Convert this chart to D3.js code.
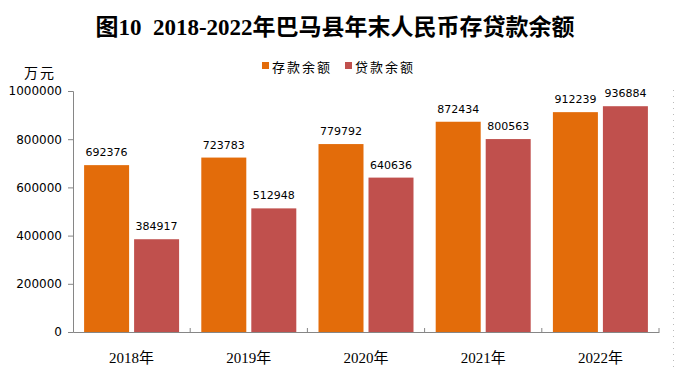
<!DOCTYPE html>
<html>
<head>
<meta charset="utf-8">
<script src="https://cdn.jsdelivr.net/npm/d3@7"></script>
<style>
  body { margin: 0; background: #fff; }
  svg { display: block; }
</style>
</head>
<body>
<svg id="chart" width="675" height="370"></svg>
<script>
// chart data
const years = ["2018年", "2019年", "2020年", "2021年", "2022年"];
const seriesNames = ["存款余额", "贷款余额"];
const deposits = [692376, 723783, 779792, 872434, 912239];
const loans = [384917, 512948, 640636, 800563, 936884];
const yTicks = [0, 200000, 400000, 600000, 800000, 1000000];
const colors = ["#E36C0A", "#C0504D"];

const svg = d3.select("#chart");
const plotLeft = 73, plotRight = 659, plotTop = 91, plotBottom = 332;

// title
svg.append("text")
  .attr("x", 335)
  .attr("y", 35)
  .attr("text-anchor", "middle")
  .attr("font-weight", "bold")
  .attr("font-size", 23)
  .attr("fill", "#000")
  .attr("font-family", "'Liberation Serif', 'Noto Sans CJK SC', serif")
  .style("white-space", "pre")
  .text("图10  2018-2022年巴马县年末人民币存贷款余额");

// legend
const legend = svg.append("g");
const legendX = [262, 345];
seriesNames.forEach((name, i) => {
  legend.append("rect")
    .attr("x", legendX[i]).attr("y", 62)
    .attr("width", 7).attr("height", 7)
    .attr("fill", colors[i]);
  legend.append("text")
    .attr("x", legendX[i] + 10).attr("y", 72)
    .attr("font-size", 13)
    .attr("letter-spacing", 2)
    .attr("font-family", "'Noto Sans CJK SC', sans-serif")
    .attr("fill", "#000")
    .text(name);
});

// y unit
svg.append("text")
  .attr("x", 40).attr("y", 78)
  .attr("text-anchor", "middle")
  .attr("font-size", 14)
  .attr("letter-spacing", 2)
  .attr("font-family", "'Noto Sans CJK SC', sans-serif")
  .text("万元");

// scales
const y = d3.scaleLinear().domain([0, 1000000]).range([plotBottom, plotTop]);
const x0 = d3.scaleBand().domain(years).range([plotLeft, plotRight]).padding(0);
const x1 = d3.scaleBand().domain(seriesNames).range([0, x0.bandwidth()])
  .paddingInner(0.1).paddingOuter(0.222);

// bars
const rows = years.map((yr, i) => ({ year: yr, values: [deposits[i], loans[i]] }));
const groups = svg.append("g").selectAll("g")
  .data(rows)
  .join("g")
  .attr("transform", d => `translate(${x0(d.year)},0)`);

groups.selectAll("rect")
  .data(d => d.values.map((v, i) => ({ key: seriesNames[i], value: v, i: i })))
  .join("rect")
  .attr("x", d => x1(d.key))
  .attr("y", d => y(d.value))
  .attr("width", x1.bandwidth())
  .attr("height", d => plotBottom - y(d.value))
  .attr("fill", d => colors[d.i]);

groups.selectAll("text")
  .data(d => d.values.map((v, i) => ({ key: seriesNames[i], value: v })))
  .join("text")
  .attr("x", d => x1(d.key) + x1.bandwidth() / 2)
  .attr("y", d => y(d.value) - 9)
  .attr("text-anchor", "middle")
  .attr("font-size", 11)
  .attr("font-family", "'DejaVu Sans', sans-serif")
  .attr("fill", "#000")
  .text(d => d.value);

// y axis
const yAxis = svg.append("g")
  .attr("transform", `translate(${plotLeft},0)`)
  .call(d3.axisLeft(y).tickValues(yTicks).tickSize(5).tickPadding(6).tickFormat(d3.format("d")));
yAxis.selectAll("path, line").attr("stroke", "#868686");
yAxis.selectAll("text")
  .attr("font-size", 12)
  .attr("font-family", "'DejaVu Sans', sans-serif")
  .attr("fill", "#000");

// x axis
const xAxis = svg.append("g")
  .attr("transform", `translate(0,${plotBottom})`)
  .call(d3.axisBottom(x0).tickSize(0).tickPadding(20));
xAxis.select(".domain").attr("stroke", "#868686");
xAxis.selectAll("text")
  .attr("font-size", 15)
  .attr("font-family", "'Liberation Serif', 'Noto Sans CJK SC', serif")
  .attr("fill", "#000");
// category separator ticks pointing inward
const sepData = years.map(d => x0(d)).concat([plotRight]).slice(1);
xAxis.selectAll(".sep")
  .data(sepData)
  .join("line")
  .attr("class", "sep")
  .attr("x1", d => d).attr("x2", d => d)
  .attr("y1", 0).attr("y2", -4)
  .attr("stroke", "#868686");

// faint dotted edge on right
svg.append("line")
  .attr("x1", 673.5).attr("x2", 673.5)
  .attr("y1", 90).attr("y2", 370)
  .attr("stroke", "#bbb")
  .attr("stroke-dasharray", "1,5");
</script>
</body>
</html>
